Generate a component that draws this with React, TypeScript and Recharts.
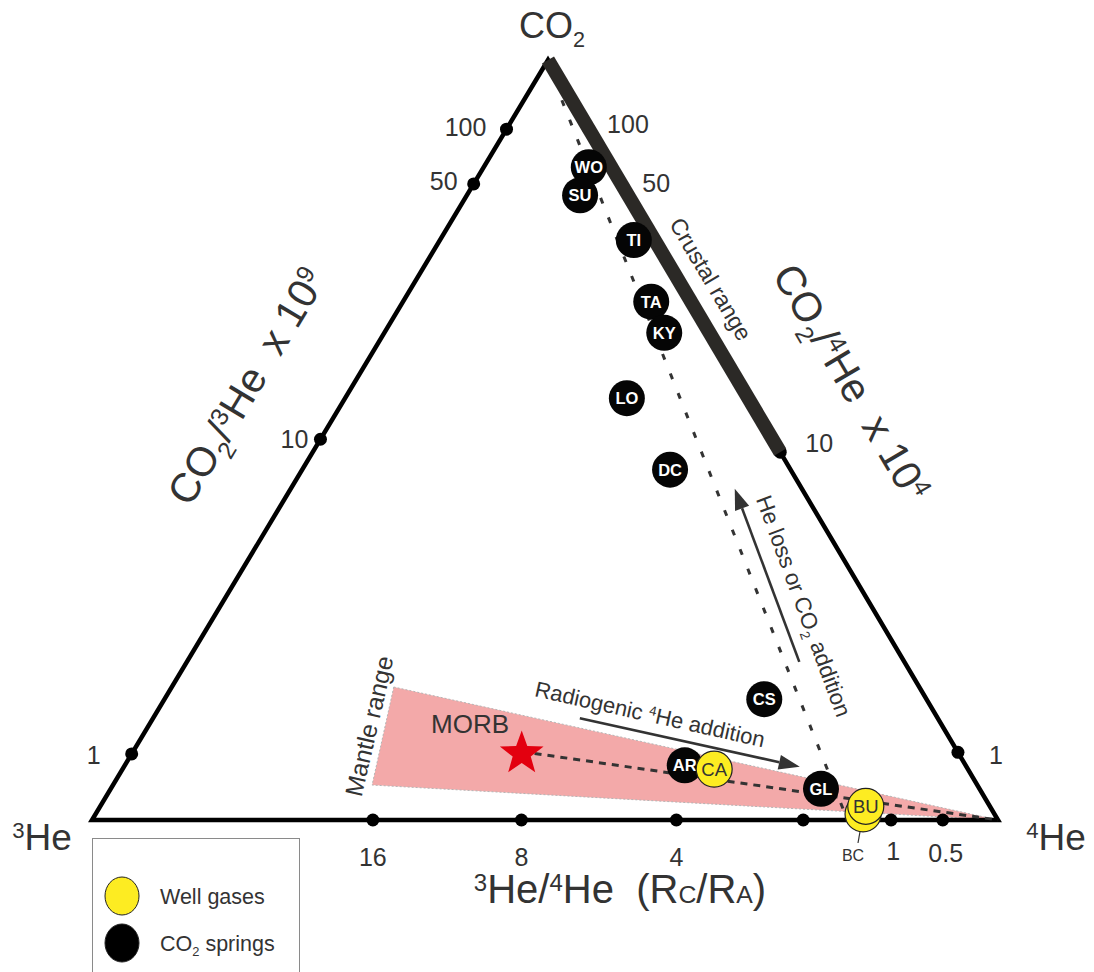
import React from "react";
import { Legend, Scatter, ScatterChart, XAxis, YAxis } from "recharts";

const FONT = "'Liberation Sans', Arial, Helvetica, sans-serif";
const INK = "#333333";
const YELLOW = "#fdec22";
const PINK = "#f3a9a9";

// ---- samples: composition, % CO2 and % 4He (3He is the rest)
const SPRING_NAMES = ["WO", "SU", "TI", "TA", "KY", "LO", "DC", "CS", "AR", "GL"];
const SPRING_CO2 = [85.9, 82.2, 76.3, 68.2, 64.1, 55.5, 46.1, 15.9, 7.2, 4.1];
const SPRING_HE4 = [11.6, 12.5, 21.4, 27.4, 30.9, 31.1, 40.6, 66.2, 61.8, 78.4];

const WELL_NAMES = ["BC", "CA", "BU"];
const WELL_CO2 = [0.8, 6.7, 1.8];
const WELL_HE4 = [84.7, 65.3, 84.5];

const MORB = { co2: 9.0, he4: 42.9 };

// ---- axis ticks
const BASE_TICKS = ["16", "8", "4", "", "1", "0.5"]; // 3He/4He (Rc/RA)
const BASE_TICK_HE4 = [31.0, 47.4, 64.5, 78.5, 88.2, 93.9];
const SIDE_TICKS = ["100", "50", "10", "1"];
const LEFT_TICK_CO2 = [90.9, 83.7, 50.1, 8.7]; // CO2/3He x 10^9
const RIGHT_TICK_CO2 = [90.9, 83.3, 48.4, 8.9]; // CO2/4He x 10^4

// ---- ranges and trends
const CRUSTAL_CO2 = [100, 48.4];
const MANTLE_RANGE = [
  { co2: 17.5, he4: 24.5 },
  { co2: 4.6, he4: 28.6 },
  { co2: 0, he4: 100 },
];
const MIXING_LINE = [
  { co2: 94.7, he4: 4.2 },
  { co2: 0.7, he4: 82.8 },
];
const RADIOGENIC_ARROW = [
  { co2: 13.4, he4: 47.1 },
  { co2: 7.0, he4: 74.6 },
];
const HE_LOSS_ARROW = [
  { co2: 20.8, he4: 67.6 },
  { co2: 43.6, he4: 49.0 },
];

// ---- layout (page pixels)
const W = 1094;
const H = 972;
const LEFT = 92;
const RIGHT = 998;
const TOP = 60;
const BASE = 820;
const APEX_PX = 548;
const SX = (RIGHT - LEFT) / 100;
const SY = (BASE - TOP) / 100;
const APEX = (APEX_PX - LEFT) / SX;
const X_DOMAIN = [-LEFT / SX, (W - LEFT) / SX];
const Y_DOMAIN = [-(H - BASE) / SY, BASE / SY];

const LEFT_LABEL_OFF = [[-41, -2], [-30, -3], [-26, 0], [-38, 1]];
const RIGHT_LABEL_OFF = [[39, -5], [33, -4], [39, -9], [38, 3]];
const BASE_LABEL_OFF = [[0, 37], [0, 37], [0, 37], [0, 37], [2, 31], [3, 33]];

type Part = string | [string, "sub" | "sup" | "sm"];

const LABELS: { at: [number, number]; parts: Part[]; size: number; angle?: number }[] = [
  { at: [552, 25.5], parts: ["CO", ["2", "sub"]], size: 36 },
  { at: [42, 837], parts: [["3", "sup"], "He"], size: 37 },
  { at: [1056, 837], parts: [["4", "sup"], "He"], size: 37 },
  { at: [620, 889], parts: [["3", "sup"], "He/", ["4", "sup"], "He  (R", ["C", "sm"], "/R", ["A", "sm"], ")"], size: 40 },
  { at: [246, 386], parts: ["CO", ["2", "sub"], "/", ["3", "sup"], "He  x 10", ["9", "sup"]], size: 41, angle: -59 },
  { at: [852, 382], parts: ["CO", ["2", "sub"], "/", ["4", "sup"], "He  x 10", ["4", "sup"]], size: 41, angle: 59.4 },
  { at: [711, 279], parts: ["Crustal range"], size: 23, angle: 59.4 },
  { at: [804, 606], parts: ["He loss or CO", ["2", "sub"], " addition"], size: 22.5, angle: 69.7 },
  { at: [650, 714], parts: ["Radiogenic ", ["4", "sup"], "He addition"], size: 22, angle: 12.6 },
  { at: [369, 726], parts: ["Mantle range"], size: 24.5, angle: -77 },
  { at: [470, 724], parts: ["MORB"], size: 26 },
  { at: [853, 855], parts: ["BC"], size: 16 },
];
const BC_LEADER: [number, number][] = [[861, 826], [858, 843]];

// composition -> plot coordinates
const tern = (co2: number, he4: number) => ({ x: he4 + (co2 * APEX) / 100, y: co2 });
const fromPx = ([px, py]: [number, number]) => ({ x: (px - LEFT) / SX, y: (BASE - py) / SY });

function Rich({ cx, cy, parts, size, angle = 0, anchor = "middle", color = INK }: any) {
  let shift = 0;
  const spans = parts.map((part: Part, i: number) => {
    const [t, k] = typeof part === "string" ? [part, "n"] : part;
    const target = k === "sub" ? size * 0.25 : k === "sup" ? -size * 0.32 : 0;
    const dy = target - shift;
    shift = target;
    const fs = k === "n" ? size : k === "sm" ? size * 0.62 : size * 0.6;
    return (
      <tspan key={i} dy={dy} fontSize={fs}>
        {t}
      </tspan>
    );
  });
  return (
    <text
      x={cx}
      y={cy + size * 0.36}
      textAnchor={anchor}
      fontFamily={FONT}
      fontSize={size}
      fill={color}
      style={{ whiteSpace: "pre" }}
      transform={angle ? `rotate(${angle} ${cx} ${cy})` : undefined}
    >
      {spans}
    </text>
  );
}

const noDot = () => <g />;

function path(key: string, pts: { x: number; y: number }[], style: any, joint = "linear") {
  return (
    <Scatter
      key={key}
      data={pts}
      shape={noDot}
      line={style}
      lineJointType={joint as any}
      legendType="none"
      isAnimationActive={false}
    />
  );
}

function arrow(key: string, pts: { x: number; y: number }[]) {
  const draw = (lp: any) => {
    const [a, b] = lp.points;
    const dx = b.x - a.x;
    const dy = b.y - a.y;
    const len = Math.hypot(dx, dy);
    const ux = dx / len;
    const uy = dy / len;
    const head = 21;
    const half = 7.5;
    const bx = b.x - ux * head;
    const by = b.y - uy * head;
    return (
      <g>
        <line x1={a.x} y1={a.y} x2={bx} y2={by} stroke={INK} strokeWidth={2.6} />
        <polygon
          points={`${b.x},${b.y} ${bx - uy * half},${by + ux * half} ${bx + uy * half},${by - ux * half}`}
          fill={INK}
        />
      </g>
    );
  };
  return <Scatter key={key} data={pts} shape={noDot} line={draw} legendType="none" isAnimationActive={false} />;
}

const SpringDot = (p: any) => (
  <g>
    <circle cx={p.cx} cy={p.cy} r={18} fill="#050505" />
    <text x={p.cx} y={p.cy + 6} textAnchor="middle" fontFamily={FONT} fontSize={16.5} fontWeight="bold" fill="#fff">
      {p.payload.name}
    </text>
  </g>
);

const WellDot = (p: any) => (
  <g>
    <circle cx={p.cx} cy={p.cy} r={18} fill={YELLOW} stroke="#222" strokeWidth={1.2} />
    {p.payload.name !== "BC" && (
      <text x={p.cx} y={p.cy + 6.5} textAnchor="middle" fontFamily={FONT} fontSize={18.5} fill={INK}>
        {p.payload.name}
      </text>
    )}
  </g>
);

const Star = (p: any) => {
  const pts = [];
  for (let i = 0; i < 10; i++) {
    const r = i % 2 === 0 ? 23 : 9.5;
    const a = -Math.PI / 2 + (i * Math.PI) / 5;
    pts.push(`${p.cx + r * Math.cos(a)},${p.cy + 2 + r * Math.sin(a)}`);
  }
  return <polygon points={pts.join(" ")} fill="#e3000f" />;
};

const TickDot = (p: any) => (
  <g>
    <circle cx={p.cx} cy={p.cy} r={6.5} fill="#000" />
    {p.payload.label && (
      <text
        x={p.cx + p.payload.off[0]}
        y={p.cy + p.payload.off[1] + 9}
        textAnchor="middle"
        fontFamily={FONT}
        fontSize={25}
        fill={INK}
      >
        {p.payload.label}
      </text>
    )}
  </g>
);

const LEGEND_ITEMS: { parts: Part[]; fill: string }[] = [
  { parts: ["Well gases"], fill: YELLOW },
  { parts: ["CO", ["2", "sub"], " springs"], fill: "#000" },
];

const LegendBox = () => (
  <div
    style={{
      width: 208,
      height: 134,
      border: "1px solid #8a8a8a",
      borderBottom: "none",
      boxSizing: "border-box",
      background: "#fff",
    }}
  >
    <svg width={206} height={133}>
      {LEGEND_ITEMS.map((it, i) => (
        <g key={i}>
          <ellipse cx={29} cy={57 + i * 47} rx={17} ry={19} fill={it.fill} stroke="#222" strokeWidth={1} />
          <Rich cx={67} cy={57 + i * 47} parts={it.parts} size={21.5} anchor="start" />
        </g>
      ))}
    </svg>
  </div>
);

export default function App() {
  const corners = [tern(0, 0), tern(0, 100), tern(100, 0)];
  const springs = SPRING_NAMES.map((name, i) => ({ name, ...tern(SPRING_CO2[i], SPRING_HE4[i]) }));
  const wells = WELL_NAMES.map((name, i) => ({ name, ...tern(WELL_CO2[i], WELL_HE4[i]) }));
  const ticks = [
    ...BASE_TICKS.map((label, i) => ({ label, off: BASE_LABEL_OFF[i], ...tern(0, BASE_TICK_HE4[i]) })),
    ...SIDE_TICKS.map((label, i) => ({ label, off: LEFT_LABEL_OFF[i], ...tern(LEFT_TICK_CO2[i], 0) })),
    ...SIDE_TICKS.map((label, i) => ({
      label,
      off: RIGHT_LABEL_OFF[i],
      ...tern(RIGHT_TICK_CO2[i], 100 - RIGHT_TICK_CO2[i]),
    })),
  ];
  const labels = LABELS.map((l) => ({ ...l, ...fromPx(l.at) }));

  return (
    <div style={{ width: W, height: H, background: "#fff" }}>
      <style>{"html,body{margin:0;padding:0;overflow:hidden;background:#fff}"}</style>
      <ScatterChart width={W} height={H} margin={{ top: 0, right: 0, bottom: 0, left: 0 }}>
        <XAxis type="number" dataKey="x" domain={X_DOMAIN} hide allowDataOverflow />
        <YAxis type="number" dataKey="y" domain={Y_DOMAIN} hide allowDataOverflow />

        {path(
          "mantle",
          MANTLE_RANGE.map((d) => tern(d.co2, d.he4)),
          { fill: PINK, stroke: "#b5b5b5", strokeWidth: 1, strokeDasharray: "2 2" },
          "linearClosed",
        )}
        {path("triangle", corners, { fill: "none", stroke: "#000", strokeWidth: 4.5 }, "linearClosed")}
        {path("mixing", MIXING_LINE.map((d) => tern(d.co2, d.he4)), {
          stroke: INK,
          strokeWidth: 3,
          strokeDasharray: "6 15",
        })}
        {path("morb-line", [tern(MORB.co2, MORB.he4), tern(0, 100)], {
          stroke: INK,
          strokeWidth: 3,
          strokeDasharray: "7 6",
        })}

        <Scatter data={ticks} shape={TickDot} legendType="none" isAnimationActive={false} />

        {path("crustal", CRUSTAL_CO2.map((c) => tern(c, 100 - c)), { stroke: "#2b2926", strokeWidth: 14 })}

        {arrow("radiogenic", RADIOGENIC_ARROW.map((d) => tern(d.co2, d.he4)))}
        {arrow("he-loss", HE_LOSS_ARROW.map((d) => tern(d.co2, d.he4)))}
        {path("bc-leader", BC_LEADER.map(fromPx), { stroke: INK, strokeWidth: 1.2 })}

        <Scatter name="CO2 springs" data={springs} shape={SpringDot} isAnimationActive={false} />
        <Scatter name="Well gases" data={wells} shape={WellDot} isAnimationActive={false} />
        <Scatter data={[tern(MORB.co2, MORB.he4)]} shape={Star} legendType="none" isAnimationActive={false} />

        <Scatter
          data={labels}
          shape={(p: any) => <Rich cx={p.cx} cy={p.cy} {...p.payload} />}
          legendType="none"
          isAnimationActive={false}
        />

        <Legend
          layout="vertical"
          align="center"
          verticalAlign="middle"
          wrapperStyle={{ left: 92, top: 838, width: 208 }}
          content={() => <LegendBox />}
        />
      </ScatterChart>
    </div>
  );
}
